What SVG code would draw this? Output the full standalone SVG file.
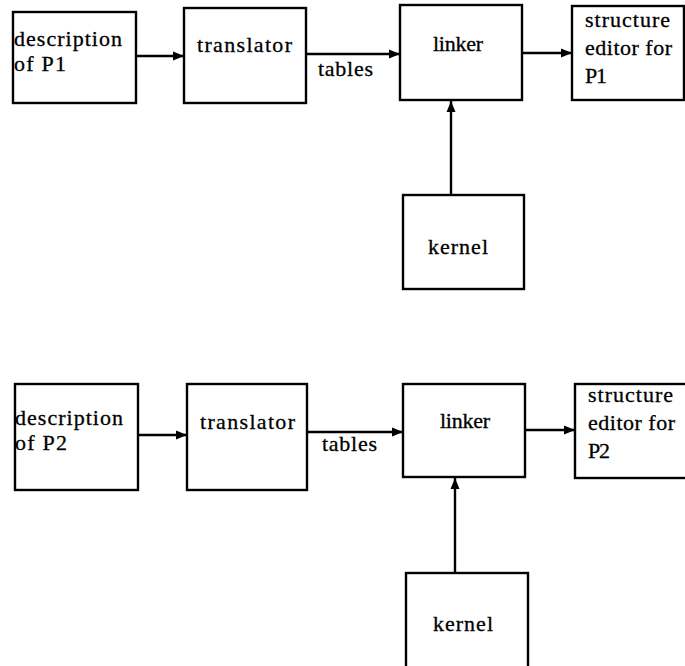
<svg xmlns="http://www.w3.org/2000/svg" width="685" height="666" viewBox="0 0 685 666">
<defs>
<marker id="ah" markerWidth="12" markerHeight="10" refX="11" refY="5" orient="auto" markerUnits="userSpaceOnUse">
<path d="M0,0.5 L11,5 L0,9.5 Z" fill="#000"/>
</marker>
<style>
rect{fill:#fff;stroke:#000;stroke-width:2.4}
.c line{stroke:#000;stroke-width:2.4;marker-end:url(#ah)}
text{font-family:"Liberation Serif","Times New Roman",serif;font-size:22px;fill:#000;stroke:#000;stroke-width:0.3}
</style>
</defs>
<rect width="685" height="666" fill="#fff" style="stroke:none"/>
<g class="c" id="connectors">
<line x1="136" y1="56" x2="184" y2="56"/>
<line x1="306" y1="54" x2="400" y2="54"/>
<line x1="522" y1="53" x2="572" y2="53"/>
<line x1="451" y1="195" x2="451" y2="101"/>
<line x1="138" y1="435" x2="187" y2="435"/>
<line x1="307" y1="432" x2="403" y2="432"/>
<line x1="525" y1="430" x2="575" y2="430"/>
<line x1="455" y1="573" x2="455" y2="478"/>
</g>
<g id="desc1"><rect x="13" y="12" width="123" height="91"/><text x="14" y="46" textLength="108" lengthAdjust="spacing">description</text><text x="14" y="71" textLength="52" lengthAdjust="spacing">of P1</text></g>
<g id="translator1"><rect x="184" y="8" width="122" height="95"/><text x="197" y="52" textLength="95" lengthAdjust="spacing">translator</text></g>
<g id="tables1"><text x="318" y="76" textLength="55" lengthAdjust="spacing">tables</text></g>
<g id="linker1"><rect x="400" y="5" width="122" height="95"/><text x="433" y="51" textLength="50" lengthAdjust="spacing">linker</text></g>
<g id="editor1"><rect x="572" y="6" width="112" height="94"/><text x="585" y="27" textLength="85" lengthAdjust="spacing">structure</text><text x="585" y="55" textLength="87" lengthAdjust="spacing">editor for</text><text x="585" y="83" textLength="22" lengthAdjust="spacing">P1</text></g>
<g id="kernel1"><rect x="403" y="195" width="121" height="94"/><text x="428" y="254" textLength="60" lengthAdjust="spacing">kernel</text></g>
<g id="desc2"><rect x="15" y="384" width="123" height="106"/><text x="15" y="425" textLength="108" lengthAdjust="spacing">description</text><text x="15" y="450" textLength="52" lengthAdjust="spacing">of P2</text></g>
<g id="translator2"><rect x="187" y="384" width="120" height="106"/><text x="200" y="429" textLength="95" lengthAdjust="spacing">translator</text></g>
<g id="tables2"><text x="322" y="451" textLength="55" lengthAdjust="spacing">tables</text></g>
<g id="linker2"><rect x="403" y="384" width="122" height="93"/><text x="440" y="428" textLength="50" lengthAdjust="spacing">linker</text></g>
<g id="editor2"><rect x="575" y="384" width="120" height="94"/><text x="588" y="402" textLength="85" lengthAdjust="spacing">structure</text><text x="588" y="430" textLength="87" lengthAdjust="spacing">editor for</text><text x="588" y="458" textLength="22" lengthAdjust="spacing">P2</text></g>
<g id="kernel2"><rect x="406" y="573" width="122" height="110"/><text x="433" y="631" textLength="60" lengthAdjust="spacing">kernel</text></g>
</svg>
